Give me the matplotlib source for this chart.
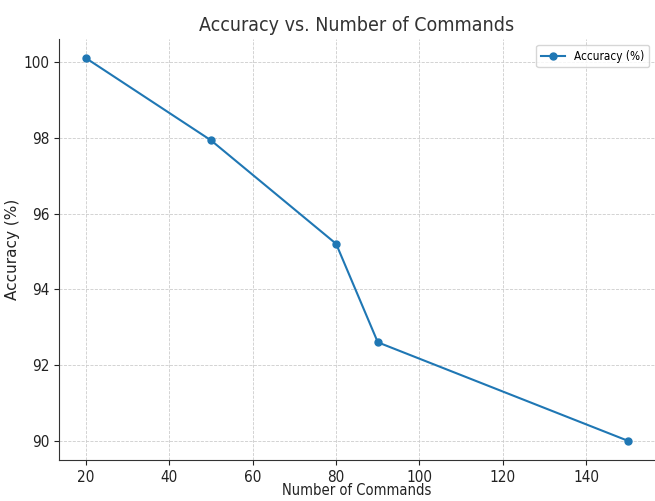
import matplotlib
matplotlib.use("Agg")
import matplotlib.pyplot as plt

commands = [20, 50, 80, 90, 150]
accuracy = [100.1, 97.93, 95.2, 92.6, 90.0]

plt.rcParams["font.family"] = ["DejaVu Sans"]
plt.rcParams["font.stretch"] = "condensed"

fig = plt.figure(figsize=(6.55, 5.01), dpi=100)
ax = fig.add_axes([0.09, 0.082, 0.91, 0.84])

ax.plot(commands, accuracy, marker="o", markersize=5, color="#1f77b4",
        linewidth=1.5, label="Accuracy (%)")

ax.set_title("Accuracy vs. Number of Commands", fontsize=14, color="#333333")
ax.set_xlabel("Number of Commands", fontsize=10.5, color="#222222")
ax.set_ylabel("Accuracy (%)", fontsize=11, color="#222222", fontstretch="normal")
ax.xaxis.set_label_coords(0.5, -0.056)
ax.yaxis.set_label_coords(-0.066, 0.5)
ax.tick_params(labelsize=11, colors="#222222")
ax.set_xticks([20, 40, 60, 80, 100, 120, 140])
ax.set_yticks([90, 92, 94, 96, 98, 100])

ax.grid(True, linestyle="--", color="#cccccc", linewidth=0.6)
ax.spines["top"].set_visible(False)
ax.spines["right"].set_visible(False)
ax.spines["left"].set_color("#333333")
ax.spines["bottom"].set_color("#333333")

ax.legend(loc="upper right", fontsize=8.5)

fig.savefig("out.png", dpi=100)
